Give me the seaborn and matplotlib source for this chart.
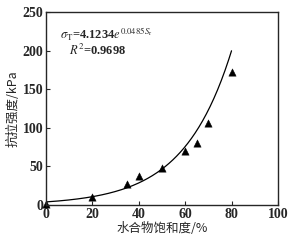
import numpy as np
import matplotlib
matplotlib.use("Agg")
import matplotlib.pyplot as plt
import seaborn as sns

saturation = [0, 20, 35, 40, 50, 60, 65, 70, 80]
strength = [2, 11, 27, 38, 48, 70, 80, 106, 172]
fit_a = 4.1234
fit_b = 0.0485
x_ticks = [0, 20, 40, 60, 80, 100]
y_ticks = [0, 50, 100, 150, 200, 250]

sns.set_style("ticks")
plt.rcParams['font.family'] = ['Liberation Serif', 'Noto Sans CJK SC']
plt.rcParams['mathtext.fontset'] = 'stix'

fig = plt.figure(figsize=(2.95, 2.43), dpi=100)
ax = fig.add_axes([0.156, 0.156, 0.786, 0.795])

xf = np.linspace(0, 80, 200)
yf = fit_a * np.exp(fit_b * xf)
sns.lineplot(x=xf, y=yf, ax=ax, color='black', linewidth=0.9)
sc = sns.scatterplot(x=saturation, y=strength, ax=ax, marker='^', color='black', s=28, edgecolor='black', linewidth=0.3)
for coll in ax.collections:
    coll.set_clip_on(False)

ax.set_xlim(0, 100)
ax.set_ylim(0, 250)
ax.set_xticks(x_ticks)
ax.set_yticks(y_ticks)
ax.tick_params(direction='in', length=3, width=0.8, labelsize=10, pad=2)
for lab in ax.get_xticklabels() + ax.get_yticklabels():
    lab.set_fontweight('bold')
for s in ax.spines.values():
    s.set_linewidth(1.0)
    s.set_visible(True)

ax.set_xlabel('水合物饱和度/%', family=['Noto Sans CJK SC'], fontsize=9, labelpad=1)
ax.set_ylabel('抗拉强度/kPa', family=['Noto Sans CJK SC'], fontsize=9, labelpad=2)

ax.text(6, 221, r'$\sigma_{\rm T}$=4.1234$e^{0.0485S_{\rm r}}$', fontsize=9, fontweight='bold', ha='left', va='center')
ax.text(10, 200, r'$R^2$=0.9698', fontsize=9, fontweight='bold', ha='left', va='center')

fig.savefig('out.png', dpi=100)
